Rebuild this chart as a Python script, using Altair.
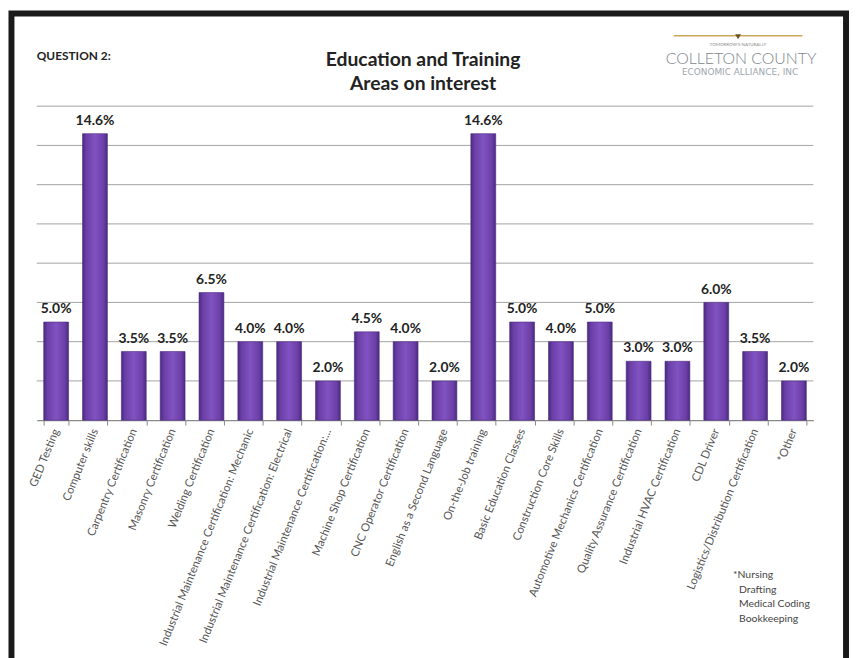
import altair as alt
import pandas as pd

categories = [
    "GED Testing", "Computer skills", "Carpentry Certification", "Masonry Certification",
    "Welding Certification", "Industrial Maintenance Certification: Mechanic",
    "Industrial Maintenance Certification: Electrical", "Industrial Maintenance Certification:...",
    "Machine Shop Certification", "CNC Operator Certification", "English as a Second Language",
    "On-the-Job training", "Basic Education Classes", "Construction Core Skills",
    "Automotive Mechanics Certification", "Quality Assurance Certification",
    "Industrial HVAC Certification", "CDL Driver", "Logistics/Distribution Certification", "*Other",
]
values = [5.0, 14.6, 3.5, 3.5, 6.5, 4.0, 4.0, 2.0, 4.5, 4.0, 2.0, 14.6, 5.0, 4.0, 5.0, 3.0, 3.0, 6.0, 3.5, 2.0]
y_ticks = [2, 4, 6, 8, 10, 12, 14, 16]

title_lines = ["Education and Training", "Areas on interest"]
question = "QUESTION 2:"
footnote = ["*Nursing", "Drafting", "Medical Coding", "Bookkeeping"]

df = pd.DataFrame({"cat": categories, "val": values})
grid_df = pd.DataFrame({"v": y_ticks})
one = pd.DataFrame({"a": [0]})

FONT = "Lato"

grad = alt.Gradient(
    gradient="linear", x1=0, x2=1, y1=0, y2=0,
    stops=[
        alt.GradientStop(color="#4a2a80", offset=0),
        alt.GradientStop(color="#6a3fa6", offset=0.15),
        alt.GradientStop(color="#8152c2", offset=0.5),
        alt.GradientStop(color="#6a3fa6", offset=0.85),
        alt.GradientStop(color="#4a2a80", offset=1),
    ],
)

yscale = alt.Scale(domain=[0, 16], nice=False)

x_enc = alt.X(
    "cat:N", sort=categories, title=None,
    scale=alt.Scale(paddingInner=0.36, paddingOuter=0.18),
    axis=alt.Axis(
        labelAngle=-68, labelFont=FONT, labelFontSize=11.5, labelColor="#555555",
        labelLimit=400, labelPadding=4, tickBand="extent", tickSize=5,
        tickColor="#8a8a8a", domainColor="#8a8a8a", domainWidth=1.2, grid=False,
    ),
)
y_enc = alt.Y("val:Q", title=None, scale=yscale, axis=None)

gridlines = alt.Chart(grid_df).mark_rule(color="#a3a3a3", strokeWidth=1).encode(
    y=alt.Y("v:Q", scale=yscale, axis=None), x=alt.value(0), x2=alt.value(784)
)

bars = alt.Chart(df).mark_bar(color=grad, stroke="#4a2a80", strokeWidth=0.6).encode(x=x_enc, y=y_enc)

labels = alt.Chart(df).transform_calculate(
    lab="format(datum.val, '.1f') + '%'"
).mark_text(
    font=FONT, fontSize=14, fontWeight="bold", color="#222222", dy=-9, baseline="alphabetic"
).encode(x=alt.X("cat:N", sort=categories), y=alt.Y("val:Q", scale=yscale), text="lab:N")

# plot origin is at page (37,104)
OX, OY = 37, 104

def txt(s, x, y, size, weight="normal", color="#222222", align="left", font=FONT):
    return alt.Chart(one).mark_text(
        text=s, font=font, fontSize=size, fontWeight=weight, color=color,
        align=align, baseline="alphabetic"
    ).encode(x=alt.value(x - OX), y=alt.value(y - OY))

frame = alt.Chart(one).mark_rect(fill="transparent", stroke="#1a1a1a", strokeWidth=6).encode(
    x=alt.value(11.5 - OX), x2=alt.value(854 - OX), y=alt.value(10.5 - OY), y2=alt.value(720 - OY)
)

gold = alt.Chart(one).mark_rule(color="#c9a85a", strokeWidth=1.5).encode(
    x=alt.value(680 - OX), x2=alt.value(810 - OX), y=alt.value(33 - OY)
)
tri = alt.Chart(one).mark_point(shape="triangle-down", filled=True, color="#6b5420", size=35, opacity=1).encode(
    x=alt.value(745 - OX), y=alt.value(34 - OY)
)

layers = [
    frame, gridlines, bars, labels,
    txt(question, 37, 57, 12, "bold"),
    txt(title_lines[0], 427, 63, 19.5, "bold", align="center"),
    txt(title_lines[1], 427, 88, 19.5, "bold", align="center"),
    gold, tri,
    txt("TOMORROW'S NATURALLY", 745, 43, 4.5, color="#8a8a8a", align="center"),
    txt("COLLETON COUNTY", 748, 61, 16, 300, color="#80868c", align="center"),
    txt("ECONOMIC ALLIANCE, INC", 747, 73, 9, color="#a0a6ac", align="center", font="DejaVu Sans"),
    txt(footnote[0], 740, 580, 10.5, color="#444444"),
    txt(footnote[1], 746, 595, 10.5, color="#444444"),
    txt(footnote[2], 746, 610, 10.5, color="#444444"),
    txt(footnote[3], 746, 625, 10.5, color="#444444"),
]

chart = alt.layer(*layers).properties(
    width=784, height=317,
    autosize=alt.AutoSizeParams(type="none"),
    padding={"left": 29, "top": 96, "right": 36, "bottom": 237},
    background="white",
).configure_view(stroke=None)

chart.save("out.html", embed_options={"renderer": "svg", "actions": False})
